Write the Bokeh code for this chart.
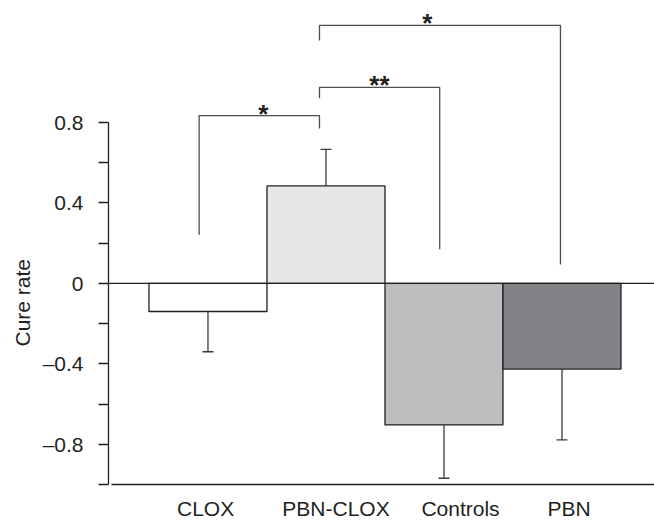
from bokeh.plotting import figure
from bokeh.models import Span, FixedTicker, CustomJSTickFormatter, Range1d, Title
from bokeh.core.properties import value
from bokeh.embed import file_html
from bokeh.resources import INLINE

# ---- data ----
categories = ["CLOX", "PBN-CLOX", "Controls", "PBN"]
cure_rate = [-0.14, 0.484, -0.704, -0.426]
error = [0.20, 0.182, 0.265, 0.352]
bar_colors = ["#ffffff", "#e6e7e8", "#bcbec0", "#808285"]
label_shift = [-0.02, 0.085, 0.14, 0.06]

y_ticks = [-0.8, -0.4, 0.0, 0.4, 0.8]
y_minor = [-1.0, -0.6, -0.2, 0.2, 0.6]

# significance brackets
br_left = [0.925, 1.945, 1.945]
br_right = [1.945, 2.964, 3.987]
br_top = [0.834, 0.974, 1.282]
br_left_end = [0.242, 0.92, 1.207]
br_right_end = [0.77, 0.169, 0.094]
br_label = ["*", "**", "*"]
br_label_x = [1.468, 2.453, 2.858]

FONT = "Liberation Sans"
INK = "#231f20"

xs = [i + 1 for i in range(len(categories))]
tips = [v + (e if v >= 0 else -e) for v, e in zip(cure_rate, error)]
label_pos = [x + s for x, s in zip(xs, label_shift)]

p = figure(width=654, height=522,
           x_range=Range1d(0.157, 4.784), y_range=Range1d(-1.0, 1.406),
           output_backend="svg", toolbar_location=None,
           min_border_left=108, min_border_right=0,
           min_border_top=0, min_border_bottom=36)
p.outline_line_color = None
p.grid.visible = False
p.background_fill_color = "white"
p.border_fill_color = "white"

p.vbar(x=xs, top=cure_rate, bottom=0, width=1.0,
       fill_color=bar_colors, line_color=INK, line_width=1.3)

p.add_layout(Span(location=0, dimension="width", line_color=INK, line_width=1.3))

p.segment(x0=xs, y0=cure_rate, x1=xs, y1=tips, line_color="#3a3a3a", line_width=1.3)
p.scatter(x=xs, y=tips, marker="dash", size=11, line_color="#3a3a3a", line_width=1.3)

p.multi_line(xs=[[l, l, r, r] for l, r in zip(br_left, br_right)],
             ys=[[a, t, t, b] for a, t, b in zip(br_left_end, br_top, br_right_end)],
             line_color="#4d4d4d", line_width=1.3)

p.text(x=br_label_x, y=br_top, text=br_label, text_align="center",
       text_baseline="alphabetic", y_offset=-2,
       text_font=value(FONT), text_font_style="bold", text_font_size="26px",
       text_color=INK)

# y axis
ya = p.yaxis[0]
ya.ticker = FixedTicker(ticks=y_ticks, minor_ticks=y_minor)
ya.formatter = CustomJSTickFormatter(code="""
if (Math.abs(tick) < 1e-9) return '0';
return (tick < 0 ? '\u2013' : '') + Math.abs(tick).toFixed(1);
""")
ya.bounds = (-1.0, 0.8)
ya.major_tick_out = 10
ya.major_tick_in = 0
ya.minor_tick_out = 10
ya.minor_tick_in = 0
ya.axis_line_color = INK
ya.major_tick_line_color = INK
ya.minor_tick_line_color = INK
ya.axis_line_width = 1.3
ya.major_tick_line_width = 1.3
ya.minor_tick_line_width = 1.3
ya.major_label_standoff = 15
ya.major_label_text_font = FONT
ya.major_label_text_font_size = "21px"
ya.major_label_text_color = INK

p.add_layout(Title(text="Cure rate", align="left", offset=138, standoff=12,
                   text_font=FONT, text_font_size="21px", text_font_style="normal",
                   text_color=INK), "left")

# x axis
xa = p.xaxis[0]
xa.ticker = FixedTicker(ticks=label_pos)
xa.formatter = CustomJSTickFormatter(args=dict(pos=label_pos, labs=categories), code="""
let i = 0, b = 1e9;
for (let k = 0; k < pos.length; k++) { const d = Math.abs(pos[k] - tick); if (d < b) { b = d; i = k; } }
return labs[i];
""")
xa.bounds = (0.18, 4.784)
xa.major_tick_out = 0
xa.major_tick_in = 0
xa.minor_tick_out = 0
xa.minor_tick_in = 0
xa.axis_line_color = INK
xa.axis_line_width = 1.3
xa.major_label_standoff = 12
xa.major_label_text_font = FONT
xa.major_label_text_font_size = "21px"
xa.major_label_text_color = INK

open("out.html", "w").write(file_html(p, INLINE))
